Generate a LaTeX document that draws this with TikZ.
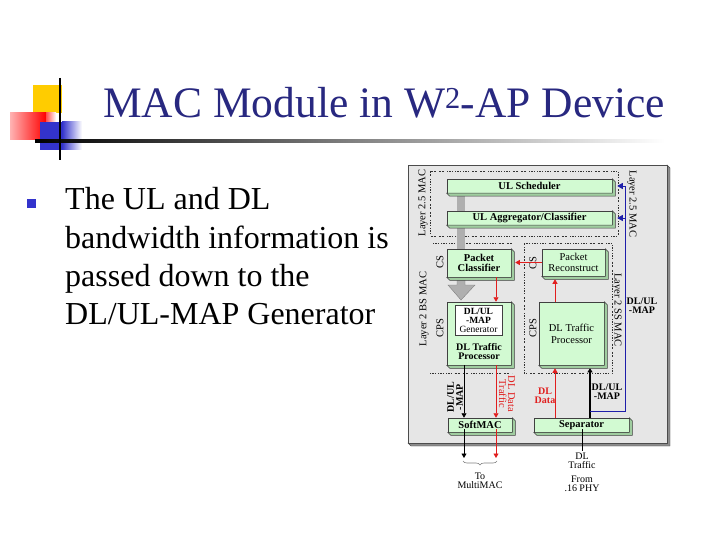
\documentclass[tikz,border=0pt]{standalone}
\usepackage{fontspec}
\setmainfont{Liberation Serif}
\usetikzlibrary{arrows.meta,decorations.pathreplacing,calc}
\definecolor{navy}{RGB}{40,40,128}
\definecolor{boxgreen}{RGB}{210,250,210}
\definecolor{boxshade}{RGB}{160,205,160}
\definecolor{panelgray}{RGB}{230,230,230}
\definecolor{arrred}{RGB}{225,30,30}
\definecolor{arrblue}{RGB}{30,30,170}
\definecolor{barGray}{RGB}{175,175,175}
\definecolor{bulletblue}{RGB}{51,51,204}
\tikzset{
  gbox/.style={draw=black!75, fill=boxgreen, line width=0.5pt, inner sep=0pt, align=center,
    font=\fontsize{10.5}{10}\selectfont\bfseries},
  shade3d/.style={fill=boxshade, draw=black!75, line width=0.5pt},
  lbl/.style={inner sep=0pt, align=center, font=\fontsize{10.5}{9}\selectfont},
  blbl/.style={inner sep=0pt, align=center, font=\fontsize{10}{9}\selectfont\bfseries},
  dotbox/.style={black!80, line width=0.7pt,
    dash pattern=on 0.7pt off 0.8pt on 0.7pt off 0.8pt on 0.7pt off 0.8pt on 0.7pt off 3pt},
  redarr/.style={draw=arrred, line width=0.8pt, -{Triangle[length=4.5pt,width=5pt]}},
  blkarr/.style={draw=black, line width=0.8pt, -{Triangle[length=4.5pt,width=5pt]}},
  thickarr/.style={draw=black, line width=1.6pt, -{Triangle[length=4pt,width=5pt]}},
  bluearr/.style={draw=arrblue, line width=0.9pt, -{Triangle[length=5.5pt,width=6pt]}},
  bullettext/.style={inner sep=0pt, anchor=base west, font=\fontsize{32}{38}\selectfont},
  botlbl/.style={inner sep=0pt, align=center, font=\fontsize{10}{9.5}\selectfont},
}
\newcommand\boxthreed[1]{\filldraw[shade3d] (#1.south west) -- ++(3,3) -- ([shift={(3,3)}]#1.south east) -- ([shift={(3,3)}]#1.north east) -- (#1.north east) -- (#1.south east) -- cycle;}
\begin{document}
\begin{tikzpicture}[x=1pt,y=-1pt]
\useasboundingbox (0,0) rectangle (720,540);
\fill[white] (0,0) rectangle (720,540);

% ---------- title decoration ----------
\fill[fill={rgb,255:red,255;green,204;blue,0}] (33,85) rectangle (62,113);
\shade[left color=red!30, right color=red] (10,113) rectangle (46,140);
\shade[left color=red!70, right color=white] (46,113) rectangle (56,140);
\fill[bulletblue] (40,122) rectangle (62,150);
\shade[left color=bulletblue, right color=white] (62,122) rectangle (82,150);
\shade[left color=black, right color=white] (35,140) rectangle (665,142.5);
\draw[black, line width=1.8pt] (60,78) -- (60,160);
\node[inner sep=0pt, anchor=base west, text=navy, font=\fontsize{43.5}{44}\selectfont] (title) at (103,118)
  {MAC Module in W\textsuperscript{2}-AP Device};

% ---------- bullet ----------
\fill[bulletblue] (27,199) rectangle (36,208);
\node[bullettext] (l1) at (65,210) {The UL and DL};
\node[bullettext] (l2) at (65,248) {bandwidth information is};
\node[bullettext] (l3) at (65,286) {passed down to the};
\node[bullettext] (l4) at (65,324) {DL/UL-MAP Generator};

% ---------- diagram panel ----------
\filldraw[fill=black!45, draw=black!70] (408,443) -- (411,446) -- (670,446) -- (670,168) -- (667,165) -- (667,443) -- cycle;
\filldraw[fill=panelgray, draw=black!70, line width=0.6pt] (408,165) rectangle (667,443);

% dotted regions
\draw[dotbox] (430,171) rectangle (618,236);
\draw[dotbox] (433,243) -- (512,243);
\draw[dotbox] (430,373) -- (512,373);
\draw[dotbox] (524,243) -- (612,243) -- (612,373) -- (524,373) -- cycle;

% gray bar and big arrow
\fill[barGray] (457,193) rectangle (465,250);
\filldraw[fill=barGray, draw=black!50] (457,280) -- (457,285) -- (448,285) -- (461,300) -- (475,285) -- (465,285) -- (465,280);

% boxes
\node[gbox, minimum width=165pt, minimum height=14pt] (ulsched) at (529.5,186) {UL Scheduler};
\boxthreed{ulsched}
\node[gbox, minimum width=165pt, minimum height=14pt] (ulagg) at (529.5,218) {UL Aggregator/Classifier};
\boxthreed{ulagg}
\node[gbox, minimum width=64pt, minimum height=28pt, font=\fontsize{10.5}{10.5}\selectfont\bfseries] (pclass) at (479,263) {Packet\\Classifier};
\boxthreed{pclass}
\node[gbox, minimum width=63pt, minimum height=27pt, font=\fontsize{10.5}{10.5}\selectfont] (precon) at (573.5,262.5) {Packet\\Reconstruct};
\boxthreed{precon}
\node[gbox, minimum width=64pt, minimum height=63pt] (dltpl) at (479,333.5) {};
\boxthreed{dltpl}
\node[gbox, fill=white, minimum width=47pt, minimum height=30pt, font=\fontsize{9.5}{9}\selectfont] (gen) at (478.5,320)
  {\textbf{DL/UL}\\\textbf{-MAP}\\Generator};
\node[blbl, font=\fontsize{10}{9}\selectfont\bfseries] (dltpltext) at (479,352) {DL Traffic\\Processor};
\node[gbox, minimum width=65pt, minimum height=63pt, font=\fontsize{10.5}{12}\selectfont] (dltpr) at (571.5,333.5) {DL Traffic\\Processor};
\boxthreed{dltpr}
\node[gbox, minimum width=64pt, minimum height=14pt] (softmac) at (480,425) {SoftMAC};
\boxthreed{softmac}
\node[gbox, minimum width=95pt, minimum height=14pt] (sep) at (581.5,425) {Separator};
\boxthreed{sep}

% side labels
\node[lbl, rotate=90] (l25a) at (423,203) {Layer 2.5 MAC};
\node[lbl, rotate=-90] (l25b) at (632,204) {Layer 2.5 MAC};
\node[lbl, rotate=90] (l2bs) at (424,309) {Layer 2 BS MAC};
\node[lbl, rotate=-90] (l2ss) at (617,310) {Layer 2 SS MAC};
\node[lbl, rotate=90] (csl) at (440,262) {CS};
\node[lbl, rotate=90] (cpsl) at (440,328) {CPS};
\node[lbl, rotate=90] (csr) at (533,263) {CS};
\node[lbl, rotate=90] (cpsr) at (533,328) {CPS};

% connectors
\draw[redarr] (precon.west) -- ([xshift=4pt]precon.west -| pclass.east);
\draw[redarr] ([xshift=17pt]pclass.south) -- ([xshift=17pt]dltpl.north);
\draw[redarr] ([xshift=-16.5pt]dltpr.north) -- ([xshift=-16.5pt,yshift=-3pt]dltpr.north |- precon.south);
\draw[blkarr] ([xshift=-15pt]dltpl.south) -- ([xshift=-16pt]softmac.north);
\draw[redarr] ([xshift=17pt]dltpl.south) -- ([xshift=16pt]softmac.north);
\draw[redarr] ([xshift=-26.5pt]sep.north) -- ([xshift=-16.5pt,yshift=-3pt]dltpr.south);
\draw[thickarr] ([xshift=8.5pt]sep.north) -- ([xshift=18.5pt,yshift=-3pt]dltpr.south);

\coordinate (bj) at (590,411);
\coordinate (bt) at (625,186);
\coordinate (bm) at (625,218);
\draw[arrblue, line width=0.9pt] (bj) -| (bt);
\draw[bluearr] (bt) -- ([xshift=5pt]ulsched.east);
\draw[bluearr] (bm) -- ([xshift=5pt]ulagg.east);

% bottom outputs
\coordinate (toblk) at (464,458);
\coordinate (tored) at (496,458);
\draw[blkarr] ([xshift=-16pt,yshift=3pt]softmac.south) -- (toblk);
\draw[redarr] ([xshift=16pt,yshift=3pt]softmac.south) -- (tored);
\draw[black!50, line width=0.6pt, decorate, decoration={brace, amplitude=4pt}] (497,461) -- (463,461);
\coordinate (dlt) at (582,451);
\draw[black, line width=0.7pt] ([xshift=0.5pt,yshift=3pt]sep.south) -- (dlt);

% labels
\node[blbl] (mapr) at (642,306) {DL/UL\\-MAP};
\node[blbl, text=arrred] (dldata) at (545,396) {DL\\Data};
\node[blbl] (mapm) at (607,392) {DL/UL\\-MAP};
\node[blbl, rotate=90] (mapl) at (455,397) {DL/UL\\-MAP};
\node[lbl, rotate=-90, text=arrred, font=\fontsize{10.5}{9}\selectfont] (ddt) at (507,394) {DL Data\\Traffic};
\node[botlbl] (tomm) at (480,481) {To\\MultiMAC};
\node[botlbl] (dltr) at (582,461) {DL\\Traffic};
\node[botlbl] (from) at (582,484) {From\\.16 PHY};
\end{tikzpicture}
\end{document}
